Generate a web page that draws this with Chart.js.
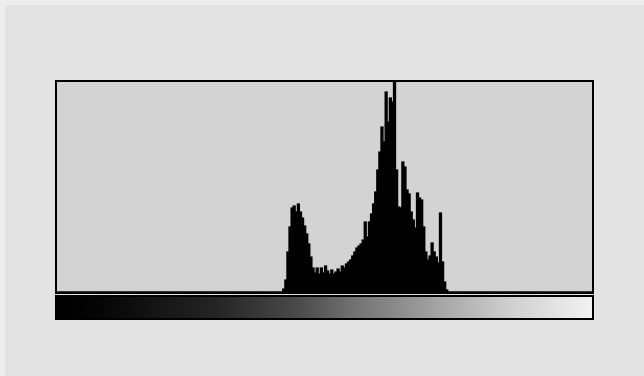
<!DOCTYPE html>
<html>
<head>
<meta charset="utf-8">
<script src="https://cdn.jsdelivr.net/npm/chart.js@4"></script>
<style>
  html, body { margin: 0; padding: 0; background: #e3e3e3; }
  #wrap { width: 644px; height: 376px; }
</style>
</head>
<body>
<div id="wrap"><canvas id="histo"></canvas></div>
<script>
// ヒストグラムの階調数 (0-255)
var levelCount = 256;
// 値が出ている最初の階調
var firstLevel = 108;
// 各階調の画素数 (縦は 0-210 の相対値)
var counts = [
  3, 12, 40, 65, 84, 86, 80, 88, 80, 74,
  66, 58, 48, 35, 24, 19, 24, 18, 24, 19,
  26, 21, 18, 22, 18, 20, 23, 20, 26, 24,
  28, 30, 32, 36, 40, 44, 46, 48, 52, 70,
  55, 70, 78, 88, 100, 122, 140, 165, 150, 200,
  170, 194, 190, 210, 122, 85, 84, 130, 125, 102,
  98, 80, 72, 64, 99, 94, 92, 65, 40, 32,
  36, 49, 40, 35, 29, 79, 30, 10, 2
];
var yMax = 210;

// 階調ラベルと全体のデータを作る
var levels = [];
var histData = [];
for (var i = 0; i < levelCount; i++) {
  levels.push(i);
  var v = counts[i - firstLevel];
  histData.push(v === undefined ? 0 : v);
}

// 背景・枠・グラデーションバーを描くプラグイン
var frame = {
  id: 'frame',
  beforeDraw: function (chart) {
    var c = chart.ctx;
    var a = chart.chartArea;
    c.save();
    c.fillStyle = '#e3e3e3';
    c.fillRect(0, 0, chart.width, chart.height);
    c.fillStyle = '#eeeeee';
    c.fillRect(0, 0, chart.width, 5);
    c.fillRect(0, 0, 5, chart.height);
    c.fillStyle = '#d3d3d3';
    c.fillRect(a.left, a.top, a.right - a.left, a.bottom - a.top);
    c.restore();
  },
  afterDraw: function (chart) {
    var c = chart.ctx;
    var a = chart.chartArea;
    c.save();
    c.strokeStyle = '#000';
    c.lineWidth = 2;
    c.strokeRect(a.left - 1, a.top - 1, a.right - a.left + 2, a.bottom - a.top + 2);

    // グラデーションバー
    var top = a.bottom + 5;
    var h = 21;
    var g = c.createLinearGradient(a.left, 0, a.right, 0);
    g.addColorStop(0, '#000000');
    g.addColorStop(0.08, '#050505');
    g.addColorStop(0.3, '#252525');
    g.addColorStop(0.45, '#4a4a4a');
    g.addColorStop(0.55, '#707070');
    g.addColorStop(0.7, '#a0a0a0');
    g.addColorStop(0.85, '#d0d0d0');
    g.addColorStop(1, '#f2f2f2');
    c.fillStyle = g;
    c.fillRect(a.left, top, a.right - a.left, h);
    c.strokeRect(a.left - 1, top - 1, a.right - a.left + 2, h + 2);
    c.restore();
  }
};

var ctx = document.getElementById('histo');
var histChart = new Chart(ctx, {
  type: 'bar',
  data: {
    labels: levels,
    datasets: [
      {
        data: histData,
        backgroundColor: '#000000',
        borderWidth: 0,
        inflateAmount: 0.6,
        barPercentage: 1.0,
        categoryPercentage: 1.0
      }
    ]
  },
  options: {
    responsive: true,
    maintainAspectRatio: false,
    animation: false,
    devicePixelRatio: 1,
    layout: {
      padding: { left: 57, right: 52, top: 82, bottom: 84 }
    },
    plugins: {
      legend: { display: false },
      tooltip: { enabled: false }
    },
    scales: {
      x: { display: false },
      y: { display: false, min: 0, max: yMax }
    }
  },
  plugins: [frame]
});
</script>
</body>
</html>
